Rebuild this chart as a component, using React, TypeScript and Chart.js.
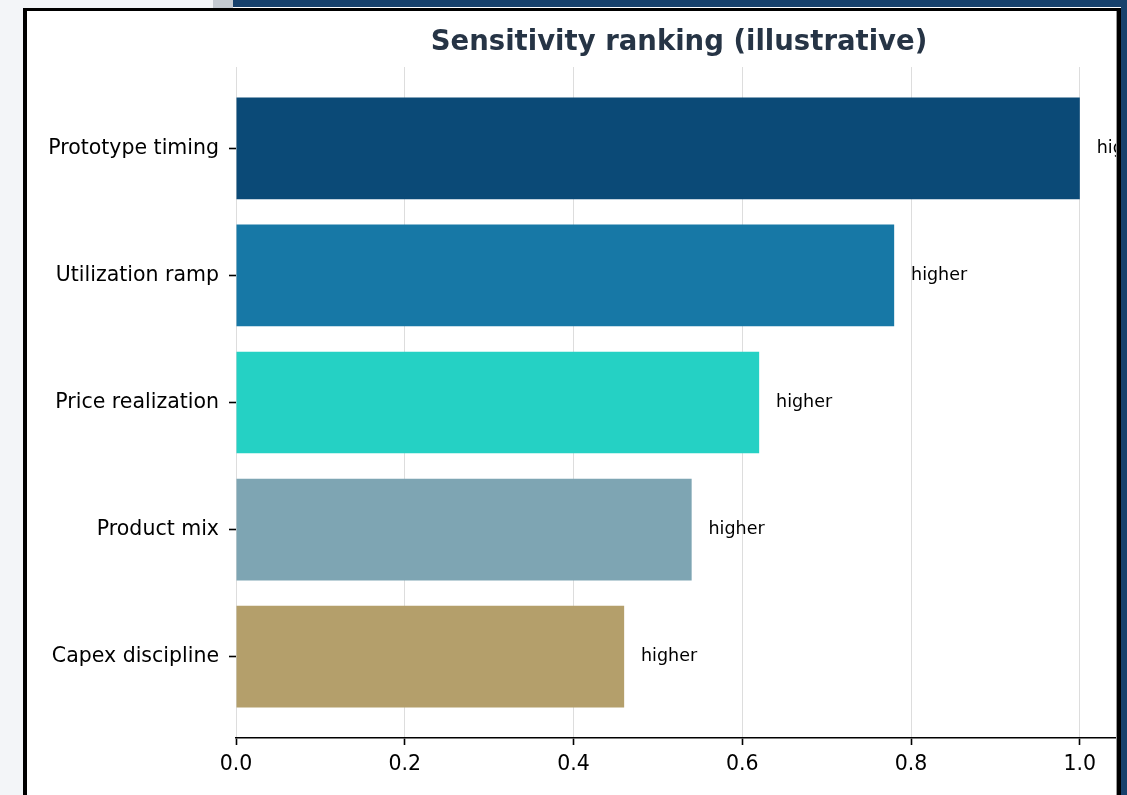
import React, { useEffect, useRef } from "react";
import { Chart, registerables } from "chart.js";

Chart.register(...registerables);

const categories = [
  "Prototype timing",
  "Utilization ramp",
  "Price realization",
  "Product mix",
  "Capex discipline",
];
const values = [1.0, 0.78, 0.62, 0.54, 0.46];
const barNotes = ["higher", "higher", "higher", "higher", "higher"];
const barColors = ["#0b4a77", "#1778a6", "#25d1c4", "#7ea5b3", "#b49f6b"];
const xTicks = [0, 0.2, 0.4, 0.6, 0.8, 1.0];
const titleText = "Sensitivity ranking (illustrative)";

const FONT = '"DejaVu Sans", "Liberation Sans", sans-serif';

const notesPlugin = {
  id: "barNotes",
  afterDatasetsDraw(chart: any) {
    const { ctx, scales } = chart;
    const x = scales.x;
    const y = scales.y;
    ctx.save();
    ctx.font = `17.5px ${FONT}`;
    ctx.fillStyle = "#000000";
    ctx.textAlign = "left";
    ctx.textBaseline = "middle";
    values.forEach((v, i) => {
      ctx.fillText(barNotes[i], x.getPixelForValue(v + 0.02), y.getPixelForValue(i));
    });
    ctx.restore();
  },
};

function SensitivityChart() {
  const ref = useRef<HTMLCanvasElement | null>(null);
  useEffect(() => {
    if (!ref.current) return;
    const chart = new Chart(ref.current, {
      type: "bar",
      data: {
        datasets: [
          {
            data: values.map((v, i) => ({ x: v, y: i })),
            backgroundColor: barColors,
            borderWidth: 0,
            categoryPercentage: 1,
            barPercentage: 0.8,
          },
        ],
      },
      options: {
        indexAxis: "y",
        responsive: false,
        animation: false,
        devicePixelRatio: 1,
        layout: { padding: { top: 0, left: 0, right: 38, bottom: 0 } },
        plugins: {
          legend: { display: false },
          tooltip: { enabled: false },
          title: {
            display: true,
            text: titleText,
            fullSize: false,
            color: "#263445",
            font: { family: FONT, size: 27.5, weight: "bold", lineHeight: 1.2 },
            padding: { top: 15, bottom: 8 },
          },
        },
        scales: {
          x: {
            type: "linear",
            position: "bottom",
            min: 0,
            max: 1.05,
            offset: false,
            z: 1,
            afterBuildTicks: (scale: any) => {
              scale.ticks = xTicks.map((v) => ({ value: v }));
            },
            afterFit: (scale: any) => {
              scale.height = 57;
            },
            ticks: {
              callback: (v: any) => Number(v).toFixed(1),
              color: "#000000",
              font: { family: FONT, size: 20.5 },
              padding: 7,
              maxRotation: 0,
              autoSkip: false,
            },
            grid: {
              display: true,
              offset: false,
              drawOnChartArea: true,
              drawTicks: true,
              tickLength: 7,
              color: "rgba(170,170,170,0.4)",
              tickColor: "#000000",
              lineWidth: 1,
              tickWidth: 1.6,
            },
            border: { display: true, color: "#000000", width: 1.6 },
          },
          y: {
            type: "linear",
            min: -0.64,
            max: 4.64,
            reverse: true,
            offset: false,
            afterBuildTicks: (scale: any) => {
              scale.ticks = categories.map((_, i) => ({ value: i }));
            },
            afterFit: (scale: any) => {
              scale.width = 209;
            },
            ticks: {
              callback: (v: any) => categories[Math.round(Number(v))] ?? "",
              color: "#000000",
              font: { family: FONT, size: 20.5 },
              padding: 10,
              autoSkip: false,
            },
            grid: {
              display: true,
              offset: false,
              drawOnChartArea: false,
              drawTicks: true,
              tickLength: 7,
              tickColor: "#000000",
              tickWidth: 1.6,
            },
            border: { display: false },
          },
        },
      },
      plugins: [notesPlugin],
    } as any);
    return () => chart.destroy();
  }, []);
  return (
    <canvas
      ref={ref}
      width={1133}
      height={784}
      style={{ position: "absolute", left: 0, top: 0, width: 1133, height: 784 }}
    />
  );
}

export default function App() {
  return (
    <div
      style={{
        position: "fixed",
        left: 0,
        top: 0,
        width: 1127,
        height: 795,
        background: "#f3f5f8",
        overflow: "hidden",
      }}
    >
      <div style={{ position: "absolute", left: 213, top: 0, width: 20, height: 8, background: "#c4cad1" }} />
      <div style={{ position: "absolute", left: 233, top: 0, width: 894, height: 8, background: "#17416c" }} />
      <div style={{ position: "absolute", left: 1121, top: 0, width: 6, height: 795, background: "#17416c" }} />
      <div style={{ position: "absolute", left: 233, top: 7, width: 888, height: 1, background: "#ffffff" }} />
      <div
        style={{
          position: "absolute",
          left: 23,
          top: 8,
          width: 1098,
          height: 800,
          boxSizing: "border-box",
          borderLeft: "4px solid #000",
          borderRight: "4px solid #000",
          borderTop: "3px solid #000",
          background: "#ffffff",
          overflow: "hidden",
        }}
      >
        <SensitivityChart />
        <div style={{ position: "absolute", right: 0, top: 0, width: 1, height: 800, background: "#9a9a9a" }} />
      </div>
    </div>
  );
}
